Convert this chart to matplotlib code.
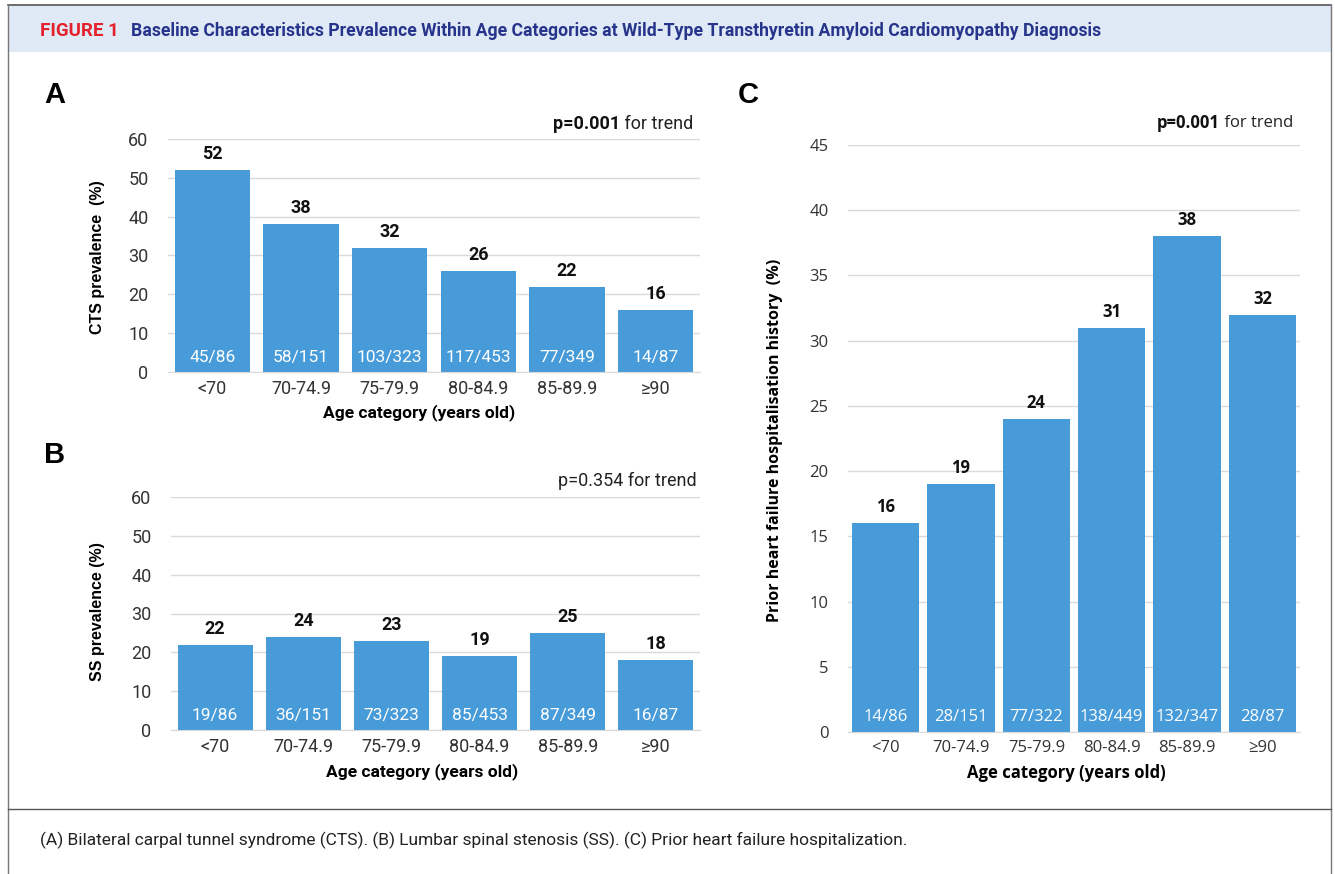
import matplotlib
matplotlib.use("Agg")
import matplotlib.pyplot as plt
import numpy as np

# data
age_cats = ["<70", "70-74.9", "75-79.9", "80-84.9", "85-89.9", "≥90"]
cts_pct = [52, 38, 32, 26, 22, 16]
cts_n = ["45/86", "58/151", "103/323", "117/453", "77/349", "14/87"]
ss_pct = [22, 24, 23, 19, 25, 18]
ss_n = ["19/86", "36/151", "73/323", "85/453", "87/349", "16/87"]
hf_pct = [16, 19, 24, 31, 38, 32]
hf_n = ["14/86", "28/151", "77/322", "138/449", "132/347", "28/87"]

W, H = 1335, 874
BLUE = "#479bd9"
GRID = "#d9d9d9"
NARROW = ["Roboto", "DejaVu Sans"]
WIDE = ["Open Sans", "DejaVu Sans"]
BOLDF = ["Liberation Sans", "DejaVu Sans"]

fig = plt.figure(figsize=(W / 100, H / 100), dpi=100)
fig.patch.set_facecolor("white")


def fx(x):
    return x / W


def fy(y):
    return 1 - y / H


def rect(l, r, y0, ytop):
    return [fx(l), fy(y0), fx(r) - fx(l), fy(ytop) - fy(y0)]


# frame, header band, caption separator
fig.add_artist(plt.Rectangle((fx(8), fy(52)), fx(1331) - fx(8), fy(5) - fy(52),
                             transform=fig.transFigure, facecolor="#dfeaf6",
                             edgecolor="none", zorder=0))
fig.add_artist(plt.Line2D([fx(8), fx(1331)], [fy(5), fy(5)], color="#555555", lw=1.2))
fig.add_artist(plt.Line2D([fx(8), fx(8)], [fy(5), 0], color="#777777", lw=1.0))
fig.add_artist(plt.Line2D([fx(1331), fx(1331)], [fy(5), 0], color="#777777", lw=1.0))
fig.add_artist(plt.Line2D([fx(8), fx(1331)], [fy(809), fy(809)], color="#555555", lw=1.0))

fig.text(fx(40), fy(31), "FIGURE 1", color="#e4222e", fontsize=13.5,
         fontweight="bold", family=NARROW, va="center", ha="left")
fig.text(fx(131), fy(31),
         "Baseline Characteristics Prevalence Within Age Categories at Wild-Type "
         "Transthyretin Amyloid Cardiomyopathy Diagnosis",
         color="#27348b", fontsize=12.7, fontweight="bold", family=NARROW,
         va="center", ha="left")
fig.text(fx(40), fy(840),
         "(A) Bilateral carpal tunnel syndrome (CTS). (B) Lumbar spinal stenosis (SS). "
         "(C) Prior heart failure hospitalization.",
         color="#222222", fontsize=12.5, family=NARROW, va="center", ha="left")


def panel(ax, pct, ns, ymax, ystep, width, font, fs, fs_in):
    x = np.arange(len(age_cats))
    ax.bar(x, pct, width=width, color=BLUE, zorder=2)
    ax.set_xlim(-0.5, len(age_cats) - 0.5)
    ax.set_ylim(0, ymax)
    ax.set_yticks(np.arange(0, ymax + 1, ystep))
    ax.set_xticks(x)
    ax.set_xticklabels(age_cats, family=font, fontsize=fs, color="#333333")
    for lab in ax.get_yticklabels():
        lab.set_family(font)
        lab.set_fontsize(fs)
        lab.set_color("#333333")
    ax.tick_params(length=0, pad=6)
    ax.tick_params(axis="y", pad=14)
    ax.grid(axis="y", color=GRID, lw=1.0, zorder=0)
    for s in ["top", "right", "left"]:
        ax.spines[s].set_visible(False)
    ax.spines["bottom"].set_color(GRID)
    for xi, v, n in zip(x, pct, ns):
        ax.annotate(str(v), (xi, v), xytext=(0, 5), textcoords="offset points",
                    ha="center", va="bottom", fontsize=fs, fontweight="bold",
                    family=font, color="#111111")
        ax.annotate(n, (xi, 0), xytext=(0, 5), textcoords="offset points",
                    ha="center", va="bottom", fontsize=fs_in, family=font,
                    color="white")


def ptext(x, y, bold, font, fs):
    t = fig.text(fx(x), fy(y), " for trend", ha="right", va="center",
                 fontsize=fs, family=font, color="#222222")
    plt.annotate(bold, xy=(0, 0.5), xycoords=t, ha="right", va="center",
                 fontsize=fs, family=font, fontweight="bold", color="#111111",
                 annotation_clip=False)


def ptext_plain(x, y, s, font, fs):
    fig.text(fx(x), fy(y), s, ha="right", va="center", fontsize=fs,
             family=font, color="#222222")


# Panel A
axA = fig.add_axes(rect(168, 700, 372, 139))
panel(axA, cts_pct, cts_n, 60, 10, 0.85, NARROW, 13, 12.5)
fig.text(fx(55), fy(95), "A", fontsize=21, fontweight="bold", family=BOLDF,
         ha="center", va="center")
fig.text(fx(97), fy(257), "CTS prevalence  (%)", rotation=90, fontsize=11.5,
         fontweight="bold", family=BOLDF, ha="center", va="center")
fig.text(fx(419), fy(413), "Age category (years old)", fontsize=12.5,
         fontweight="bold", family=NARROW, ha="center", va="center")
ptext(693, 124, "p=0.001", NARROW, 13)

# Panel B
axB = fig.add_axes(rect(171, 700, 730, 497))
panel(axB, ss_pct, ss_n, 60, 10, 0.85, NARROW, 13, 12.5)
fig.text(fx(55), fy(455), "B", fontsize=21, fontweight="bold", family=BOLDF,
         ha="center", va="center")
fig.text(fx(97), fy(612), "SS prevalence (%)", rotation=90, fontsize=11.5,
         fontweight="bold", family=BOLDF, ha="center", va="center")
fig.text(fx(422), fy(772), "Age category (years old)", fontsize=12.5,
         fontweight="bold", family=NARROW, ha="center", va="center")
ptext_plain(697, 481, "p=0.354 for trend", NARROW, 13)

# Panel C
axC = fig.add_axes(rect(848, 1300, 732, 145))
panel(axC, hf_pct, hf_n, 45, 5, 0.89, WIDE, 12, 12)
fig.text(fx(748), fy(95), "C", fontsize=21, fontweight="bold", family=BOLDF,
         ha="center", va="center")
fig.text(fx(775), fy(440), "Prior heart failure hospitalisation history  (%)",
         rotation=90, fontsize=11.5, fontweight="bold", family=WIDE,
         ha="center", va="center")
fig.text(fx(1066), fy(773), "Age category (years old)", fontsize=12,
         fontweight="bold", family=WIDE, ha="center", va="center")
ptext(1293, 123, "p=0.001", WIDE, 12)

fig.savefig("out.png", dpi=100)
